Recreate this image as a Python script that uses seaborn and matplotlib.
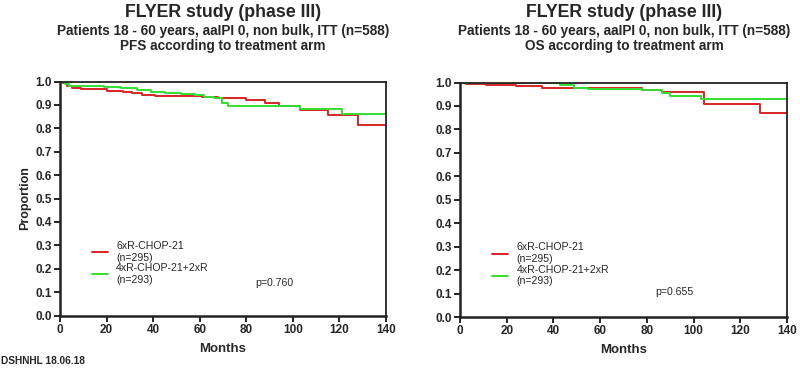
import matplotlib
matplotlib.use("Agg")
import matplotlib.pyplot as plt
import seaborn as sns
import pandas as pd

# ---- data ----
arms = ["6xR-CHOP-21", "4xR-CHOP-21+2xR"]
arm_n = ["(n=295)", "(n=293)"]
arm_colors = ["#d82424", "#33dd33"]

pfs_red_t = [0, 1.5, 3, 5, 9, 14, 20, 27, 31, 35, 41, 61, 68, 80, 88, 94, 103, 115, 128, 140]
pfs_red_s = [1.0, 0.993, 0.982, 0.974, 0.970, 0.966, 0.961, 0.957, 0.950, 0.943, 0.940, 0.934, 0.929,
             0.921, 0.907, 0.896, 0.879, 0.857, 0.814, 0.814]
pfs_green_t = [0, 2, 4, 19, 26, 33, 39, 45, 52, 58, 62, 66, 69.5, 72, 103, 121, 140]
pfs_green_s = [1.0, 0.990, 0.980, 0.976, 0.971, 0.964, 0.957, 0.951, 0.946, 0.942, 0.934, 0.928,
               0.910, 0.897, 0.881, 0.859, 0.859]

os_red_t = [0, 2.5, 11, 24, 35, 78, 86.5, 104.3, 128.6, 140]
os_red_s = [1.0, 0.995, 0.990, 0.985, 0.977, 0.969, 0.961, 0.910, 0.871, 0.871]
os_green_t = [0, 25, 43, 48.6, 55, 78, 86.5, 90, 103, 140]
os_green_s = [1.0, 0.997, 0.990, 0.978, 0.973, 0.966, 0.954, 0.944, 0.929, 0.929]

p_values = ["p=0.760", "p=0.655"]
endpoints = ["PFS according to treatment arm", "OS according to treatment arm"]
title = "FLYER study (phase III)"
subtitle = "Patients 18 - 60 years, aaIPI 0, non bulk, ITT (n=588)"
x_ticks = [0, 20, 40, 60, 80, 100, 120, 140]
y_ticks = [0.0, 0.1, 0.2, 0.3, 0.4, 0.5, 0.6, 0.7, 0.8, 0.9, 1.0]
footer = "DSHNHL 18.06.18"

def frame(t_red, s_red, t_green, s_green):
    return pd.concat([
        pd.DataFrame({"month": t_red, "prop": s_red, "arm": arms[0]}),
        pd.DataFrame({"month": t_green, "prop": s_green, "arm": arms[1]}),
    ], ignore_index=True)

panels = [frame(pfs_red_t, pfs_red_s, pfs_green_t, pfs_green_s),
          frame(os_red_t, os_red_s, os_green_t, os_green_s)]

sns.set_theme(style="white")
plt.rcParams["font.family"] = ["Liberation Sans", "DejaVu Sans"]

fig = plt.figure(figsize=(8, 3.7), dpi=100)
ax_rects = [[60 / 800, 1 - 315.5 / 370, 326 / 800, 234 / 370],
            [460 / 800, 1 - 317 / 370, 327 / 800, 234.5 / 370]]
centers = [223 / 800, 624 / 800]
p_y = [0.14, 0.108]

for i, df in enumerate(panels):
    ax = fig.add_axes(ax_rects[i])
    sns.lineplot(data=df, x="month", y="prop", hue="arm", hue_order=arms,
                 palette=arm_colors, drawstyle="steps-post", linewidth=1.4,
                 estimator=None, ax=ax, legend=True)
    ax.set_xlim(0, 140)
    ax.set_ylim(0, 1.0)
    ax.set_xticks(x_ticks)
    ax.set_yticks(y_ticks)
    ax.set_xticklabels([str(v) for v in x_ticks], fontsize=8.5, fontweight="bold")
    ax.set_yticklabels([f"{v:.1f}" for v in y_ticks], fontsize=8.5, fontweight="bold")
    ax.tick_params(axis="both", direction="out", length=4, width=1.2, color="black",
                   pad=2, left=True, bottom=True)
    for side, sp in ax.spines.items():
        sp.set_visible(True)
        sp.set_color("#222222")
        sp.set_linewidth(1.3)
    ax.spines["left"].set_linewidth(1.8)
    ax.spines["bottom"].set_linewidth(1.8)
    ax.set_xlabel("Months", fontsize=9.5, fontweight="bold", labelpad=5)
    ax.set_ylabel("Proportion" if i == 0 else "", fontsize=9, fontweight="bold", labelpad=3)

    handles, labels = ax.get_legend_handles_labels()
    new_labels = [f"{a}\n{n}" for a, n in zip(arms, arm_n)]
    leg = ax.legend(handles, new_labels, loc="upper left", bbox_to_anchor=(0.098, 0.318),
                    frameon=False, fontsize=7.6, handlelength=1.55, handletextpad=0.75,
                    labelspacing=0.05, borderpad=0, borderaxespad=0)
    for h in leg.get_lines():
        h.set_linewidth(1.4)
    ax.text(83.7, p_y[i], p_values[i], fontsize=7.6, va="center", ha="left")

    fig.text(centers[i], 1 - 12.5 / 370, title, ha="center", va="center",
             fontsize=12.8, fontweight="bold")
    fig.text(centers[i], 1 - 31 / 370, subtitle, ha="center", va="center",
             fontsize=9.8, fontweight="bold")
    fig.text(centers[i], 1 - 46 / 370, endpoints[i], ha="center", va="center",
             fontsize=9.8, fontweight="bold")

fig.text(0.0015, 1 - 361 / 370, footer, ha="left", va="center", fontsize=7.3, fontweight="bold")

fig.savefig("out.png", dpi=100, facecolor="white")
